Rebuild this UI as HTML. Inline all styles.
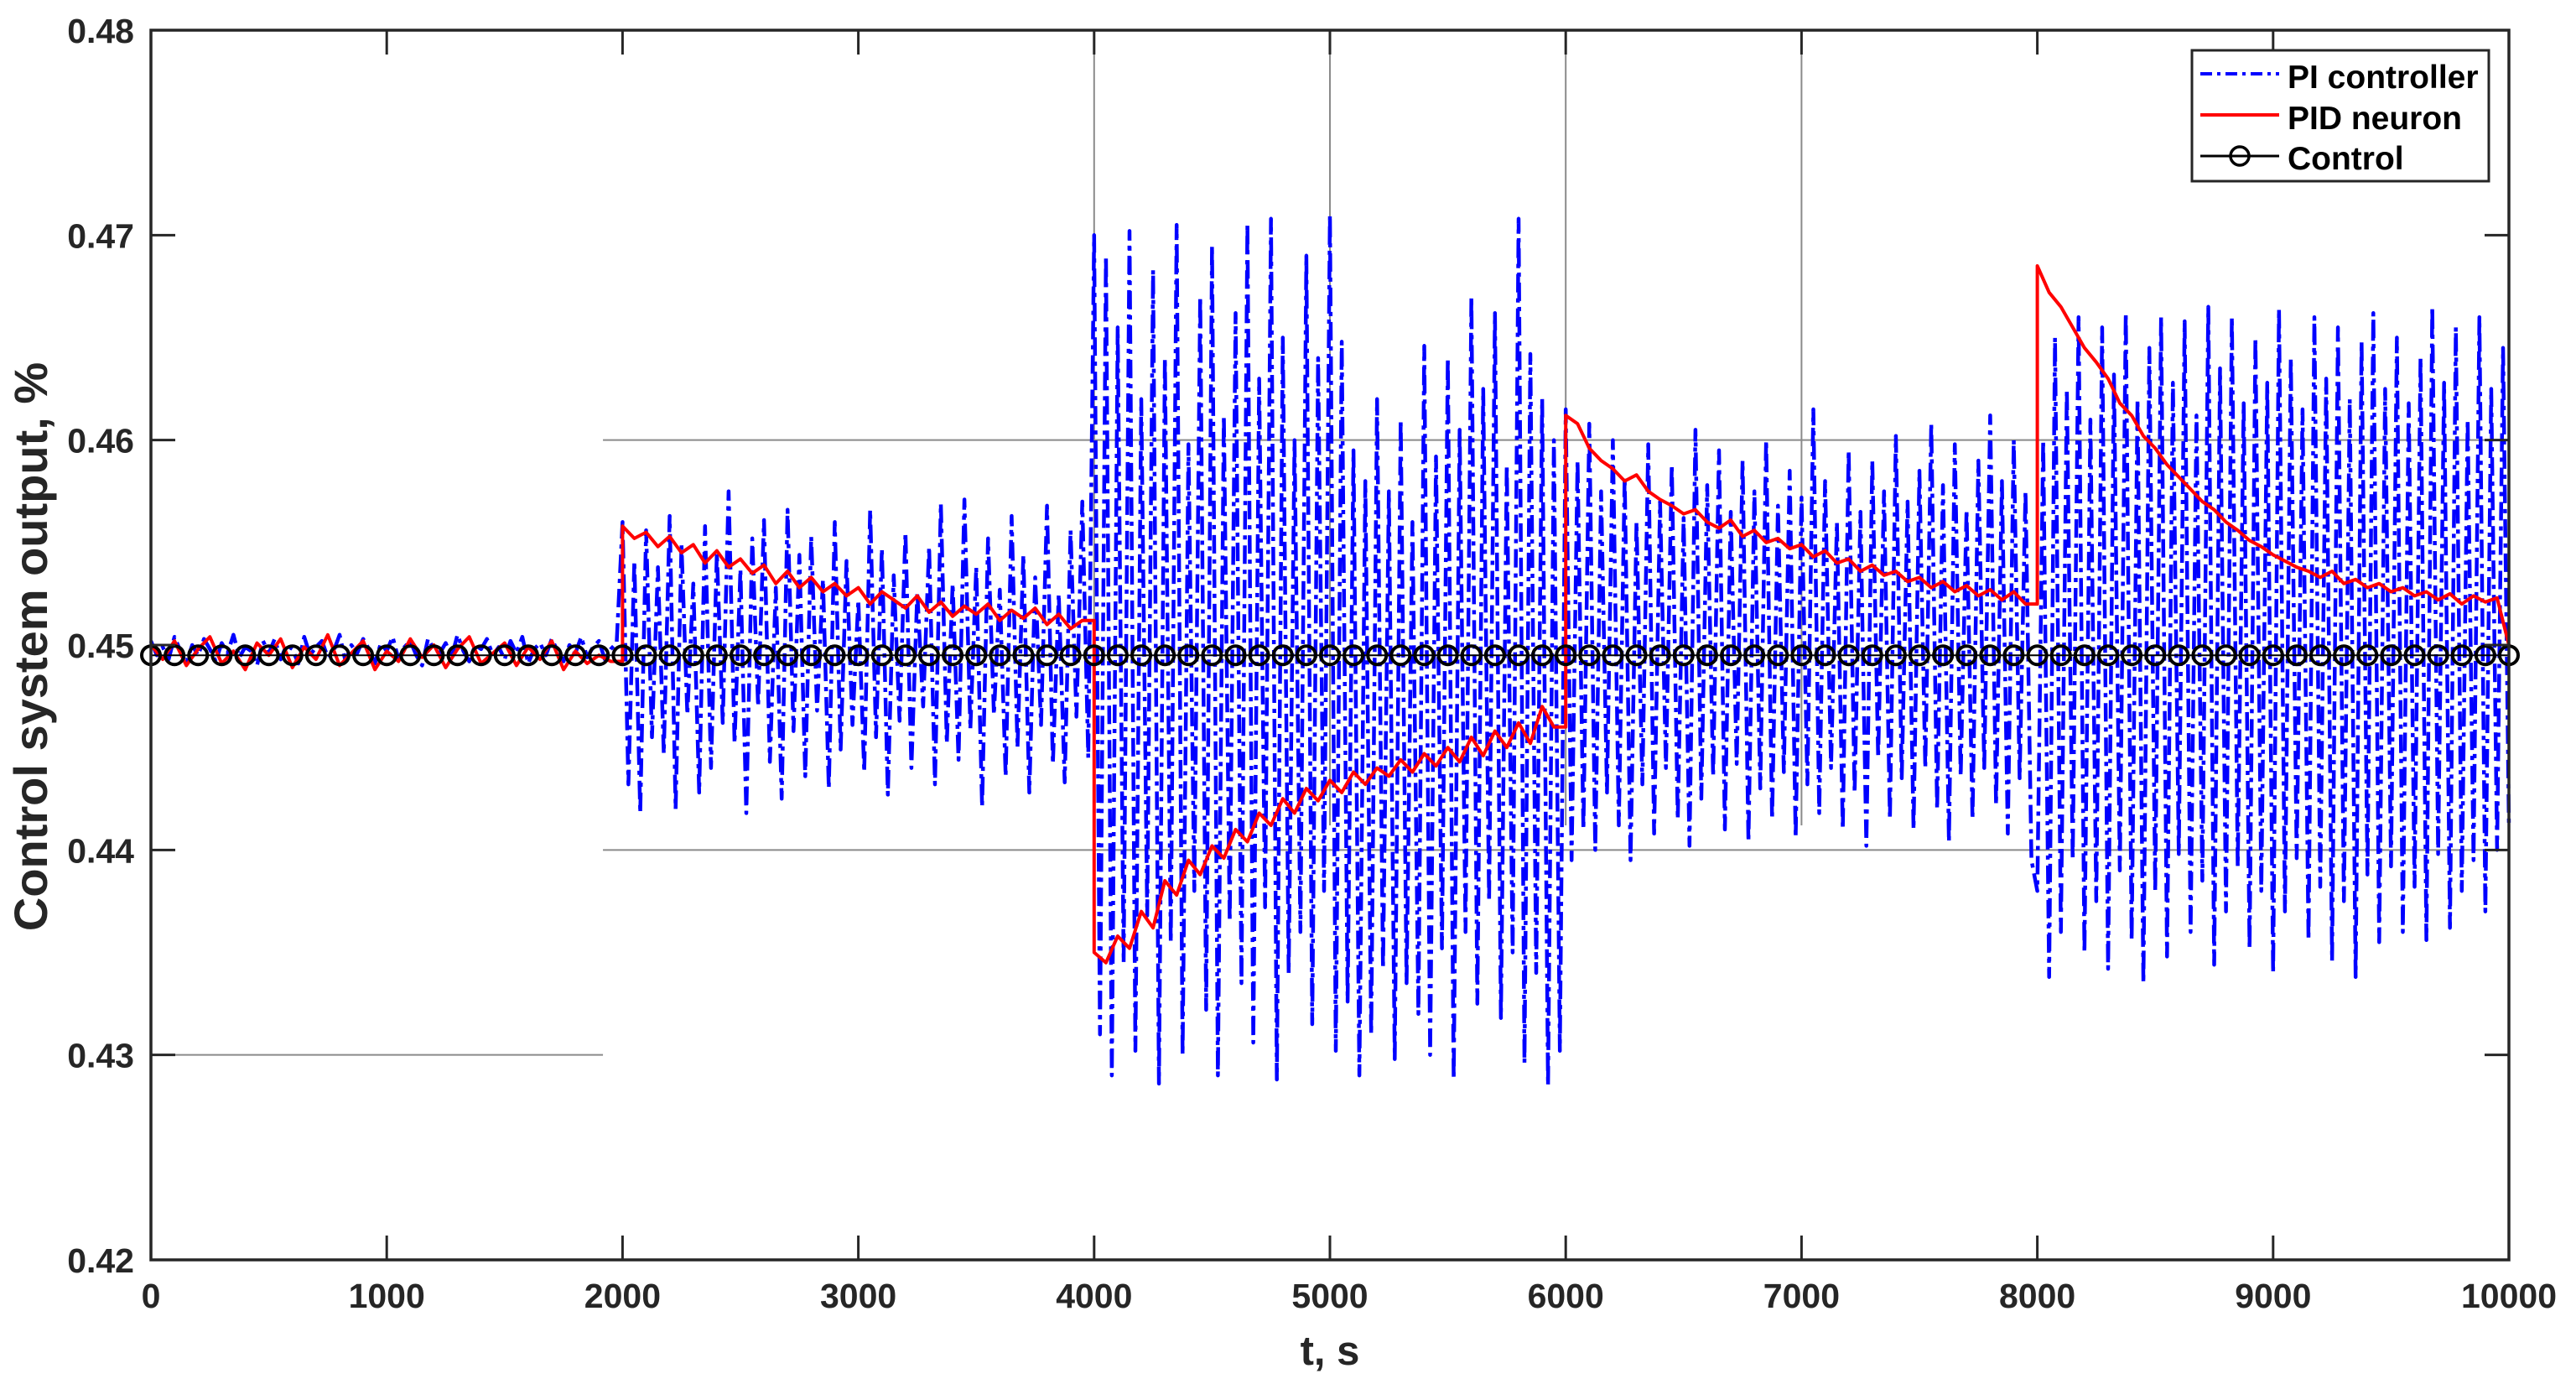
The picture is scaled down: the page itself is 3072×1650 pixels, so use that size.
<!DOCTYPE html>
<html><head><meta charset="utf-8"><style>
html,body{margin:0;padding:0;background:#fff;}
svg{display:block;font-family:"Liberation Sans",Arial,sans-serif;font-weight:bold;}
</style></head><body>
<svg id="chart" width="3072" height="1650" viewBox="0 0 3072 1650" xmlns="http://www.w3.org/2000/svg">
<rect width="3072" height="1650" fill="#fff"/>
<g id="grid"></g>
<g id="series"></g>
<g id="axes"></g>
<text x="0" y="0" transform="translate(56,771) rotate(-90)" text-anchor="middle" font-size="56" fill="#262626">Control system output, %</text>
<text x="1586" y="1627" text-anchor="middle" font-size="49" fill="#262626">t, s</text>
<g>
<rect x="2614" y="60" width="354" height="156" fill="#fff" stroke="#262626" stroke-width="3"/>
<line x1="2624" y1="88" x2="2718" y2="88" stroke="#0000ff" stroke-width="4" stroke-dasharray="14,6,4,6"/>
<text x="2728" y="105" font-size="39" fill="#000">PI controller</text>
<line x1="2624" y1="137" x2="2718" y2="137" stroke="#ff0000" stroke-width="4"/>
<text x="2728" y="154" font-size="39" fill="#000">PID neuron</text>
<line x1="2624" y1="186" x2="2718" y2="186" stroke="#000" stroke-width="3"/>
<circle cx="2671" cy="186" r="11" fill="none" stroke="#000" stroke-width="3.5"/>
<text x="2728" y="202" font-size="39" fill="#000">Control</text>
</g>
</svg>
<script>
const xTicks = [0,1000,2000,3000,4000,5000,6000,7000,8000,9000,10000];
const yTicks = [0.42,0.43,0.44,0.45,0.46,0.47,0.48];
const yTickLabels = ["0.42","0.43","0.44","0.45","0.46","0.47","0.48"];
const piStep = 25;
const piValues = [
0.4502,0.4495,0.4499,0.4493,0.4504,0.4497,0.4491,0.4500,0.4495,0.4503,
0.4498,0.4492,0.4501,0.4496,0.4505,0.4494,0.4499,0.4497,0.4490,0.4502,
0.4496,0.4503,0.4493,0.4500,0.4498,0.4491,0.4504,0.4495,0.4499,0.4502,
0.4494,0.4497,0.4505,0.4492,0.4500,0.4496,0.4503,0.4498,0.4491,0.4501,
0.4497,0.4504,0.4493,0.4499,0.4502,0.4495,0.4490,0.4503,0.4498,0.4496,
0.4501,0.4494,0.4505,0.4497,0.4492,0.4500,0.4498,0.4503,0.4495,0.4499,
0.4493,0.4502,0.4496,0.4504,0.4491,0.4498,0.4501,0.4495,0.4503,0.4497,
0.4492,0.4500,0.4496,0.4504,0.4494,0.4499,0.4502,0.4493,0.4498,0.4501,
0.4560,0.4432,0.4541,0.4418,0.4556,0.4455,0.4538,0.4447,0.4563,0.4420,
0.4549,0.4466,0.4530,0.4428,0.4558,0.4440,0.4545,0.4462,0.4575,0.4452,
0.4537,0.4418,0.4552,0.4470,0.4561,0.4443,0.4528,0.4425,0.4566,0.4458,
0.4544,0.4436,0.4553,0.4468,0.4532,0.4430,0.4560,0.4449,0.4541,0.4461,
0.4522,0.4438,0.4566,0.4455,0.4547,0.4427,0.4534,0.4463,0.4555,0.4440,
0.4526,0.4470,0.4548,0.4432,0.4569,0.4452,0.4530,0.4444,0.4571,0.4459,
0.4538,0.4421,0.4552,0.4466,0.4527,0.4436,0.4563,0.4450,0.4544,0.4428,
0.4533,0.4461,0.4568,0.4442,0.4525,0.4433,0.4556,0.4465,0.4570,0.4445,
0.4700,0.4310,0.4690,0.4290,0.4655,0.4345,0.4702,0.4302,0.4620,0.4368,
0.4683,0.4286,0.4640,0.4355,0.4705,0.4300,0.4598,0.4380,0.4670,0.4322,
0.4695,0.4290,0.4612,0.4365,0.4662,0.4335,0.4706,0.4306,0.4630,0.4372,
0.4708,0.4288,0.4650,0.4340,0.4600,0.4360,0.4690,0.4315,0.4640,0.4380,
0.4710,0.4302,0.4648,0.4326,0.4595,0.4290,0.4580,0.4310,0.4620,0.4342,
0.4575,0.4298,0.4610,0.4335,0.4560,0.4320,0.4646,0.4300,0.4592,0.4352,
0.4640,0.4288,0.4605,0.4360,0.4670,0.4325,0.4625,0.4375,0.4662,0.4318,
0.4588,0.4350,0.4708,0.4296,0.4642,0.4340,0.4620,0.4285,0.4600,0.4302,
0.4615,0.4395,0.4590,0.4410,0.4608,0.4400,0.4575,0.4428,0.4600,0.4412,
0.4582,0.4395,0.4560,0.4432,0.4598,0.4408,0.4570,0.4440,0.4588,0.4415,
0.4562,0.4402,0.4605,0.4425,0.4578,0.4436,0.4595,0.4410,0.4565,0.4442,
0.4590,0.4404,0.4575,0.4430,0.4600,0.4415,0.4568,0.4438,0.4585,0.4406,
0.4572,0.4432,0.4615,0.4418,0.4580,0.4440,0.4560,0.4410,0.4595,0.4428,
0.4565,0.4402,0.4590,0.4445,0.4575,0.4415,0.4602,0.4435,0.4570,0.4410,
0.4585,0.4440,0.4608,0.4420,0.4578,0.4404,0.4598,0.4436,0.4566,0.4415,
0.4590,0.4440,0.4612,0.4422,0.4580,0.4408,0.4600,0.4435,0.4575,0.4395,
0.4380,0.4600,0.4338,0.4650,0.4360,0.4625,0.4395,0.4660,0.4350,0.4610,
0.4375,0.4655,0.4342,0.4632,0.4390,0.4662,0.4356,0.4620,0.4335,0.4645,
0.4380,0.4660,0.4348,0.4628,0.4398,0.4658,0.4360,0.4612,0.4385,0.4665,
0.4344,0.4635,0.4370,0.4660,0.4392,0.4618,0.4352,0.4650,0.4380,0.4628,
0.4340,0.4664,0.4370,0.4640,0.4396,0.4615,0.4356,0.4660,0.4382,0.4630,
0.4346,0.4655,0.4375,0.4620,0.4338,0.4648,0.4388,0.4662,0.4355,0.4625,
0.4392,0.4650,0.4360,0.4618,0.4382,0.4640,0.4356,0.4665,0.4398,0.4628,
0.4362,0.4655,0.4380,0.4610,0.4395,0.4660,0.4370,0.4625,0.4400,0.4645,0.4412
];
const pidStep = 50;
const pidValues = [
0.4500,0.4493,0.4502,0.4490,0.4498,0.4504,0.4491,0.4497,0.4488,0.4501,
0.4495,0.4503,0.4489,0.4499,0.4493,0.4505,0.4490,0.4496,0.4502,0.4488,
0.4497,0.4492,0.4503,0.4494,0.4500,0.4489,0.4498,0.4504,0.4491,0.4496,
0.4501,0.4490,0.4499,0.4493,0.4502,0.4488,0.4497,0.4491,0.4495,0.4492,
0.4558,0.4552,0.4555,0.4548,0.4553,0.4545,0.4549,0.4540,0.4546,0.4538,
0.4542,0.4535,0.4539,0.4530,0.4536,0.4528,0.4533,0.4526,0.4530,0.4524,
0.4528,0.4520,0.4526,0.4522,0.4518,0.4524,0.4516,0.4521,0.4514,0.4519,
0.4515,0.4520,0.4512,0.4517,0.4513,0.4518,0.4510,0.4515,0.4508,0.4512,
0.4350,0.4345,0.4358,0.4352,0.4370,0.4362,0.4385,0.4378,0.4395,0.4388,
0.4402,0.4396,0.4410,0.4404,0.4418,0.4412,0.4425,0.4418,0.4430,0.4424,
0.4434,0.4428,0.4438,0.4432,0.4440,0.4436,0.4444,0.4438,0.4447,0.4441,
0.4450,0.4443,0.4455,0.4446,0.4458,0.4450,0.4462,0.4452,0.4470,0.4460,
0.4612,0.4608,0.4596,0.4590,0.4586,0.4580,0.4583,0.4575,0.4571,0.4568,
0.4564,0.4566,0.4560,0.4557,0.4561,0.4553,0.4556,0.4550,0.4552,0.4547,
0.4549,0.4543,0.4546,0.4540,0.4542,0.4536,0.4539,0.4534,0.4536,0.4531,
0.4533,0.4528,0.4531,0.4526,0.4529,0.4524,0.4527,0.4522,0.4526,0.4520,
0.4685,0.4672,0.4665,0.4655,0.4645,0.4638,0.4630,0.4618,0.4612,0.4602,
0.4596,0.4588,0.4582,0.4576,0.4570,0.4566,0.4560,0.4556,0.4551,0.4548,
0.4544,0.4541,0.4538,0.4536,0.4533,0.4536,0.4530,0.4532,0.4528,0.4530,
0.4526,0.4528,0.4524,0.4526,0.4522,0.4525,0.4520,0.4524,0.4521,0.4523,0.4500
];
const controlStep = 100;
const controlValues = [
0.4495,0.4495,0.4495,0.4495,0.4495,0.4495,0.4495,0.4495,0.4495,0.4495,
0.4495,0.4495,0.4495,0.4495,0.4495,0.4495,0.4495,0.4495,0.4495,0.4495,
0.4495,0.4495,0.4495,0.4495,0.4495,0.4495,0.4495,0.4495,0.4495,0.4495,
0.4495,0.4495,0.4495,0.4495,0.4495,0.4495,0.4495,0.4495,0.4495,0.4495,
0.4495,0.4495,0.4495,0.4495,0.4495,0.4495,0.4495,0.4495,0.4495,0.4495,
0.4495,0.4495,0.4495,0.4495,0.4495,0.4495,0.4495,0.4495,0.4495,0.4495,
0.4495,0.4495,0.4495,0.4495,0.4495,0.4495,0.4495,0.4495,0.4495,0.4495,
0.4495,0.4495,0.4495,0.4495,0.4495,0.4495,0.4495,0.4495,0.4495,0.4495,
0.4495,0.4495,0.4495,0.4495,0.4495,0.4495,0.4495,0.4495,0.4495,0.4495,
0.4495,0.4495,0.4495,0.4495,0.4495,0.4495,0.4495,0.4495,0.4495,0.4495,0.4495
];

const NS = "http://www.w3.org/2000/svg";
const L = 180, R = 2992, T = 36, B = 1502;
const xMin = 0, xMax = 10000, yMin = 0.42, yMax = 0.48;
function xs(v){ return L + (v - xMin) / (xMax - xMin) * (R - L); }
function ys(v){ return B - (v - yMin) / (yMax - yMin) * (B - T); }
function mk(tag, attrs, parent){
  const e = document.createElementNS(NS, tag);
  for (const k in attrs) e.setAttribute(k, attrs[k]);
  parent.appendChild(e);
  return e;
}
const grid = document.getElementById('grid');
const series = document.getElementById('series');
const axes = document.getElementById('axes');

const gcol = "#8a8a8a";
let g;
g = mk('line', {x1: xs(0), x2: xs(1917), y1: ys(0.43), y2: ys(0.43), stroke: gcol, 'stroke-width': 2}, grid);


g = mk('line', {x1: xs(1917), x2: xs(10000), y1: ys(0.44), y2: ys(0.44), stroke: gcol, 'stroke-width': 2}, grid);


g = mk('line', {x1: xs(1917), x2: xs(10000), y1: ys(0.46), y2: ys(0.46), stroke: gcol, 'stroke-width': 2}, grid);


[4000,5000,6000,7000].forEach(function(t){
  const v = mk('line', {x1: xs(t), x2: xs(t), y1: T, y2: ys(0.4412), stroke: gcol, 'stroke-width': 2}, grid);
  
  
});

// PI controller
let d = piValues.map(function(v,i){ return (i?'L':'M') + xs(i*piStep).toFixed(1) + ' ' + ys(v).toFixed(1); }).join(' ');
const pi = mk('path', {d: d, fill: 'none', stroke: '#0000ff', 'stroke-width': 4.5, 'stroke-dasharray': '22,7,5,7', 'stroke-linejoin': 'round'}, series);



// PID neuron (large steps drawn as vertical jumps)
d = '';
pidValues.forEach(function(v,i){
  const x = xs(i*pidStep);
  if (i === 0) { d += 'M' + x.toFixed(1) + ' ' + ys(v).toFixed(1); return; }
  if (Math.abs(v - pidValues[i-1]) > 0.004) d += ' L' + x.toFixed(1) + ' ' + ys(pidValues[i-1]).toFixed(1);
  d += ' L' + x.toFixed(1) + ' ' + ys(v).toFixed(1);
});
const pid = mk('path', {d: d, fill: 'none', stroke: '#ff0000', 'stroke-width': 4, 'stroke-linejoin': 'round'}, series);



// Control
d = controlValues.map(function(v,i){ return (i?'L':'M') + xs(i*controlStep).toFixed(1) + ' ' + ys(v).toFixed(1); }).join(' ');
const cl = mk('path', {d: d, fill: 'none', stroke: '#000', 'stroke-width': 2}, series);


controlValues.forEach(function(v,i){
  const c = mk('circle', {cx: xs(i*controlStep), cy: ys(v), r: 11, fill: 'none', stroke: '#000', 'stroke-width': 4}, series);
  
  
});

// axes
const box = mk('rect', {x: L, y: T, width: R - L, height: B - T, fill: 'none', stroke: '#262626', 'stroke-width': 3.5}, axes);


xTicks.forEach(function(t){
  const x = xs(t);
  const a = mk('line', {x1: x, x2: x, y1: B, y2: B - 29, stroke: '#262626', 'stroke-width': 3}, axes);
  
  
  const b = mk('line', {x1: x, x2: x, y1: T, y2: T + 29, stroke: '#262626', 'stroke-width': 3}, axes);
  
  
  const lb = mk('text', {x: x, y: B + 57, 'text-anchor': 'middle', 'font-size': 41, fill: '#262626'}, axes);
  lb.textContent = String(t);
  
  
});
yTicks.forEach(function(v,i){
  const y = ys(v);
  const a = mk('line', {x1: L, x2: L + 29, y1: y, y2: y, stroke: '#262626', 'stroke-width': 3}, axes);
  
  
  const b = mk('line', {x1: R, x2: R - 29, y1: y, y2: y, stroke: '#262626', 'stroke-width': 3}, axes);
  
  
  const lb = mk('text', {x: 160, y: y + 15, 'text-anchor': 'end', 'font-size': 41, fill: '#262626'}, axes);
  lb.textContent = yTickLabels[i];
  
  
});
</script>
</body></html>
